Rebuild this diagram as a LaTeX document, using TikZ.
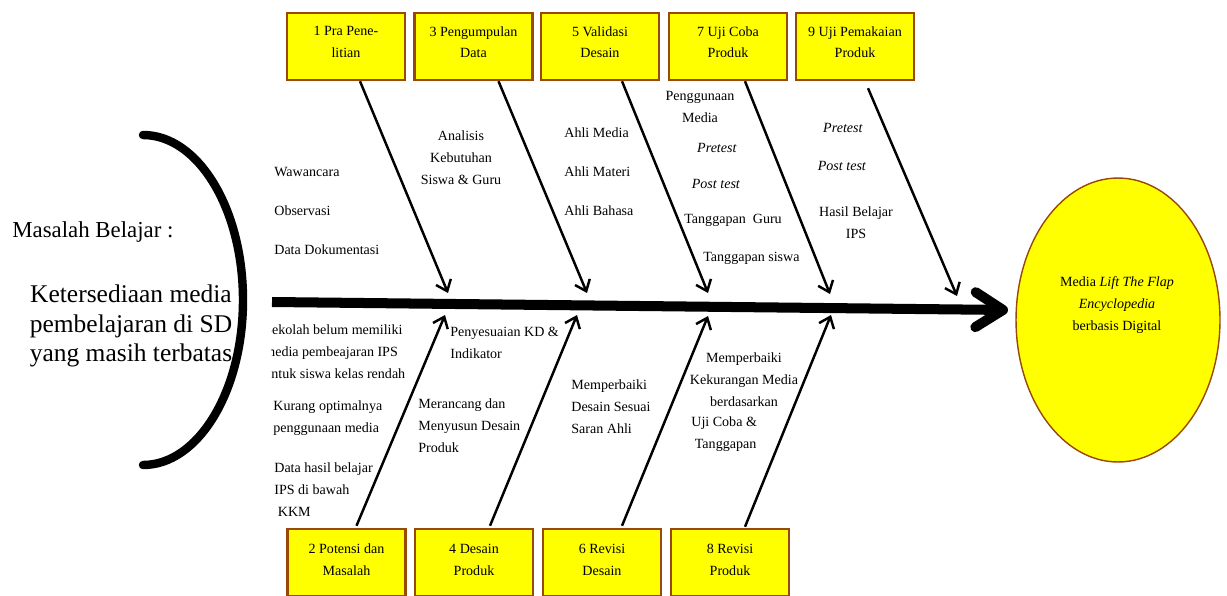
\documentclass[tikz,border=0pt]{standalone}
\usepackage{fontspec}
\setmainfont{Liberation Serif}
\usetikzlibrary{arrows.meta,shapes.geometric,calc}

\definecolor{boxbrown}{RGB}{152,72,7}
\definecolor{boxyellow}{RGB}{255,255,0}

\begin{document}
\begin{tikzpicture}[
        x=0.02cm, y=-0.02cm, % one unit = one pixel of the layout
        every node/.style={font=\fontsize{8}{12.5}\selectfont, inner sep=0pt},
        stepbox/.style={draw=boxbrown, line width=1.4pt, fill=boxyellow,
            minimum width=2.36cm, minimum height=1.34cm, align=center},
        goalshape/.style={ellipse, draw=boxbrown, line width=0.8pt, fill=boxyellow,
            minimum width=4.08cm, minimum height=5.68cm},
        branch/.style={line width=1.4pt, -{Straight Barb[length=2mm,width=3.2mm]}},
        spine/.style={line width=5.7pt, -{Straight Barb[length=5.5mm,width=7mm,round]}},
        lbl/.style={anchor=west, align=left},
        clbl/.style={align=center}
    ]

    \useasboundingbox (0,0) rectangle (1227,595);

    % problem on the left
    \draw[line width=4.8pt, line cap=round]
        (143,135) arc[start angle=-90, end angle=90, x radius=100, y radius=165];
    \node[anchor=west, font=\fontsize{13}{15}\selectfont] (masalah) at (12,232) {Masalah Belajar :};
    \node[align=center, font=\fontsize{14.5}{17}\selectfont] (problem) at (131,326)
        {Ketersediaan media\\pembelajaran di SD\\yang masih terbatas};

    % goal
    \node[goalshape] (goal) at (1118,320) {};
    \node[align=center] (goaltext) at (1117,305)
        {Media \textit{Lift The Flap}\\\textit{Encyclopedia}\\berbasis Digital};

    % spine
    \coordinate (tail) at (272,302);
    \coordinate (head) at (1008,310);
    \draw[spine] (tail) -- (head);

    % steps above
    \node[stepbox] (b1) at (346,46.5) {1 Pra Pene-\\litian\\[-7.5pt]};
    \node[stepbox] (b3) at (473.5,46.5) {3 Pengumpulan\\Data\\[-7.5pt]};
    \node[stepbox] (b5) at (600,46.5) {5 Validasi\\Desain\\[-7.5pt]};
    \node[stepbox] (b7) at (728,46.5) {7 Uji Coba\\Produk\\[-7.5pt]};
    \node[stepbox] (b9) at (855,46.5) {9 Uji Pemakaian\\Produk\\[-7.5pt]};

    % steps below
    \node[stepbox] (b2) at (346.5,562.5) {2 Potensi dan\\Masalah\\[-9pt]};
    \node[stepbox] (b4) at (474,562.5) {4 Desain\\Produk\\[-9pt]};
    \node[stepbox] (b6) at (602,562.5) {6 Revisi\\Desain\\[-9pt]};
    \node[stepbox] (b8) at (730,562.5) {8 Revisi\\Produk\\[-9pt]};

    % ends of the branches on the spine
    \coordinate (t1) at (448,293);
    \coordinate (t3) at (587,293);
    \coordinate (t5) at (708,293);
    \coordinate (t7) at (830,294);
    \coordinate (t9) at (957,296);
    \coordinate (t2) at (445,315);
    \coordinate (t4) at (577,315);
    \coordinate (t6) at (708,316);
    \coordinate (t8) at (831,315);

    \draw[branch] ($(b1.south)+(14,0)$) -- (t1);
    \draw[branch] ($(b3.south)+(25,0)$) -- (t3);
    \draw[branch] ($(b5.south)+(22,0)$) -- (t5);
    \draw[branch] ($(b7.south)+(17,0)$) -- (t7);
    \draw[branch] ($(b9.south)+(13,7)$) -- (t9);
    \draw[branch] ($(b2.north)+(10,-2)$) -- (t2);
    \draw[branch] ($(b4.north)+(16,-2)$) -- (t4);
    \draw[branch] ($(b6.north)+(20,-2)$) -- (t6);
    \draw[branch] ($(b8.north)+(15,-1)$) -- (t8);

    % causes above the spine
    \node[lbl] (wawancara) at (274,172) {Wawancara};
    \node[lbl] (observasi) at (274,211) {Observasi};
    \node[lbl] (dokumen) at (274,250) {Data Dokumentasi};
    \node[clbl] (analisis) at (461,158) {Analisis\\Kebutuhan\\Siswa \& Guru};
    \node[lbl] (ahlimedia) at (564,133) {Ahli Media};
    \node[lbl] (ahlimateri) at (564,172) {Ahli Materi};
    \node[lbl] (ahlibahasa) at (564,211) {Ahli Bahasa};
    \node[clbl] (penggunaan) at (700,106.5) {Penggunaan\\Media};
    \node[clbl] (pretesta) at (717,148) {\textit{Pretest}};
    \node[clbl] (posttesta) at (716,184) {\textit{Post test}};
    \node[lbl] (tguru) at (684,220) {Tanggapan\ \ Guru};
    \node[lbl] (tsiswa) at (703,258) {Tanggapan siswa};
    \node[clbl] (pretestb) at (843,128) {\textit{Pretest}};
    \node[clbl] (posttestb) at (842,166) {\textit{Post test}};
    \node[clbl] (hasil) at (856,223) {Hasil Belajar\\IPS};

    % causes below the spine
    \begin{scope}
        \clip (271,318) rectangle (430,385);
        \node[lbl] (sekolah) at (264,351.5)
            {Sekolah belum memiliki\\media pembeajaran IPS\\untuk siswa kelas rendah};
    \end{scope}
    \node[lbl] (kurang) at (273,418) {Kurang optimalnya\\penggunaan media};
    \node[lbl] (datahasil) at (274,490) {Data hasil belajar\\IPS di bawah\\\ KKM};
    \node[lbl] (penyesuaian) at (450,343) {Penyesuaian KD \&\\Indikator};
    \node[lbl] (merancang) at (418,425.5) {Merancang dan\\Menyusun Desain\\Produk};
    \node[lbl] (perbaikidesain) at (571,407) {Memperbaiki\\Desain Sesuai\\Saran Ahli};
    \node[clbl] (perbaikimedia) at (744,380) {Memperbaiki\\Kekurangan Media\\berdasarkan};
    \node[lbl] (ujicoba) at (691,434.5) {Uji Coba \&\\\ Tanggapan};

\end{tikzpicture}
\end{document}
